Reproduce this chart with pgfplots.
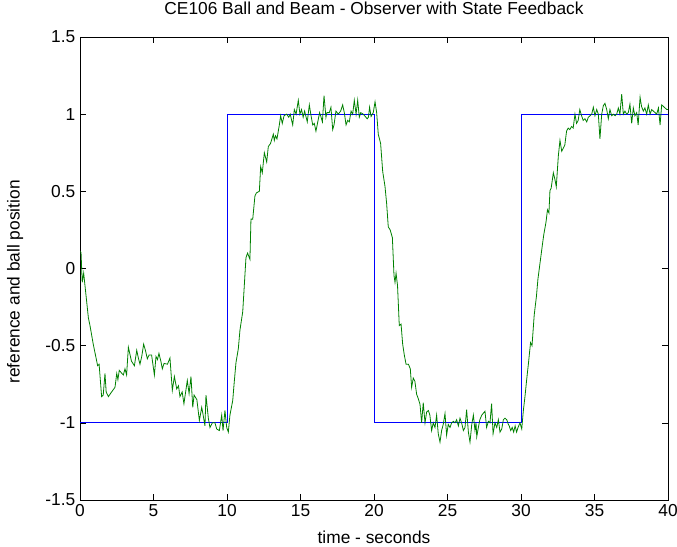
\documentclass[border=0pt]{standalone}
\usepackage{pgfplots}
\pgfplotsset{compat=1.18}
\usepackage{fontspec}
\setmainfont{Liberation Sans}
\definecolor{mlgreen}{RGB}{0,128,0}
\definecolor{mlblue}{RGB}{0,0,255}
\begin{document}
\begin{tikzpicture}
\useasboundingbox (-60pt,-34.5pt) rectangle (447.75pt,375pt);
\begin{axis}[
  at={(0,0)}, anchor=south west,
  scale only axis, width=441pt, height=347.25pt,
  xmin=0, xmax=40, ymin=-1.5, ymax=1.5,
  xtick={0,5,...,40}, ytick={-1.5,-1,...,1.5},
  yticklabels={-1.5,-1,-0.5,0,0.5,1,1.5},
  tick align=inside, tick pos=both, major tick length=4.5pt,
  tick style={black, line width=0.5pt},
  axis line style={line width=0.6pt},
  font=\fontsize{13}{15}\selectfont,
  /pgf/number format/assume math mode=true,
  xticklabel style={yshift=0pt},
  yticklabel style={xshift=0pt},
  title={CE106 Ball and Beam - Observer with State Feedback},
  title style={at={(rel axis cs:0.5,1)}, anchor=base, yshift=10.5pt},
  xlabel={time - seconds},
  xlabel style={at={(rel axis cs:0.5,0)}, anchor=base, yshift=-32.5pt},
  ylabel={reference and ball position},
  ylabel style={at={(axis description cs:-0.1105,0.471)}, anchor=center},
  clip=true,
]
\addplot[mlblue, line width=0.6pt] coordinates {
(0,-1)(10,-1)(10,1)(20,1)(20,-1)(30,-1)(30,1)(40,1)(40,0)
};
\addplot[mlgreen, line width=0.6pt] coordinates {
(0.0,0.11)(0.07,0.105)(0.15,-0.09)(0.25,-0.03)(0.57,-0.32)(0.68,-0.37)(0.9,-0.49)
(1.2,-0.63)(1.3,-0.62)(1.47,-0.83)(1.58,-0.82)(1.7,-0.68)(1.78,-0.80)(1.93,-0.83)
(2.15,-0.80)(2.38,-0.77)(2.5,-0.68)(2.58,-0.72)(2.67,-0.66)(2.85,-0.68)(2.95,-0.69)
(3.06,-0.65)(3.17,-0.69)(3.29,-0.51)(3.5,-0.60)(3.7,-0.63)(3.86,-0.53)(3.97,-0.58)
(4.08,-0.62)(4.2,-0.57)(4.33,-0.49)(4.45,-0.53)(4.58,-0.585)(4.7,-0.56)(4.87,-0.56)
(5.06,-0.69)(5.17,-0.57)(5.27,-0.59)(5.37,-0.55)(5.5,-0.60)(5.6,-0.65)(5.72,-0.615)
(5.95,-0.62)(6.12,-0.58)(6.28,-0.79)(6.42,-0.70)(6.58,-0.78)(6.7,-0.76)(6.8,-0.83)
(6.95,-0.80)(7.07,-0.876)(7.3,-0.725)(7.42,-0.81)(7.55,-0.70)(7.67,-0.90)(7.76,-0.82)
(7.95,-0.85)(8.12,-0.985)(8.28,-0.90)(8.36,-0.94)(8.5,-1.02)(8.57,-0.82)(8.73,-0.97)
(8.84,-1.03)(9.0,-1.0)(9.18,-1.0)(9.3,-1.04)(9.48,-1.05)(9.64,-0.95)(9.73,-1.05)
(9.86,-0.92)(9.98,-1.03)(10.09,-1.06)(10.2,-0.95)(10.39,-0.855)(10.48,-0.75)(10.61,-0.61)
(10.77,-0.52)(10.88,-0.40)(11.07,-0.28)(11.29,0.07)(11.4,0.10)(11.56,0.06)(11.63,0.32)
(11.75,0.32)(11.9,0.47)(12.0,0.49)(12.2,0.50)(12.29,0.66)(12.4,0.62)(12.54,0.75)
(12.7,0.69)(12.81,0.79)(12.96,0.81)(13.15,0.87)(13.22,0.83)(13.3,0.86)(13.4,0.84)
(13.56,0.93)(13.65,0.99)(13.76,0.94)(13.88,0.99)(14.06,1.0)(14.2,0.98)(14.3,1.0)
(14.47,0.93)(14.58,1.03)(14.7,1.0)(14.85,1.09)(14.96,1.0)(15.07,1.03)(15.18,0.98)
(15.28,1.02)(15.46,0.95)(15.6,1.06)(15.7,1.0)(15.83,0.93)(15.94,0.94)(16.05,0.89)
(16.3,1.01)(16.4,0.98)(16.49,0.95)(16.6,1.12)(16.73,0.98)(16.8,1.01)(16.96,1.01)
(17.07,1.045)(17.19,0.90)(17.28,0.93)(17.41,1.02)(17.57,1.0)(17.73,1.02)(17.87,1.06)
(17.98,1.01)(18.1,0.93)(18.21,0.96)(18.32,0.95)(18.44,1.02)(18.55,1.0)(18.66,1.09)
(18.78,1.0)(18.89,1.09)(19.0,0.98)(19.1,1.01)(19.27,1.0)(19.54,0.97)(19.62,0.98)
(19.7,1.045)(19.8,0.985)(19.95,1.01)(20.07,1.08)(20.18,1.01)(20.29,0.87)(20.45,0.81)
(20.59,0.63)(20.75,0.53)(20.86,0.42)(20.97,0.27)(21.1,0.25)(21.25,0.20)(21.36,-0.045)
(21.43,-0.09)(21.5,-0.03)(21.6,-0.11)(21.72,-0.37)(21.84,-0.36)(21.95,-0.49)(22.06,-0.56)
(22.18,-0.62)(22.34,-0.62)(22.47,-0.65)(22.56,-0.77)(22.67,-0.71)(22.78,-0.73)(22.9,-0.815)
(23.0,-0.84)(23.13,-0.88)(23.24,-1.0)(23.35,-0.87)(23.47,-1.0)(23.58,-0.93)(23.7,-0.92)
(23.8,-0.95)(23.92,-1.05)(24.03,-1.0)(24.15,-1.03)(24.26,-0.95)(24.37,-1.07)(24.49,-1.125)
(24.6,-1.05)(24.71,-1.01)(24.83,-0.94)(24.94,-1.08)(25.05,-1.01)(25.17,-1.03)(25.28,-1.0)
(25.4,-0.99)(25.51,-1.0)(25.62,-0.98)(25.74,-1.02)(25.85,-0.97)(25.96,-1.0)(26.08,-1.05)
(26.19,-1.03)(26.3,-0.915)(26.42,-1.06)(26.53,-1.125)(26.65,-1.01)(26.76,-0.95)(26.87,-1.05)
(26.94,-1.0)(26.99,-1.09)(27.1,-1.03)(27.2,-0.98)(27.33,-0.95)(27.55,-0.925)(27.66,-1.03)
(27.78,-0.99)(27.89,-1.0)(28.0,-0.875)(28.1,-1.07)(28.23,-1.0)(28.35,-1.03)(28.46,-0.98)
(28.57,-1.06)(28.69,-1.04)(28.8,-0.98)(28.91,-0.97)(29.03,-0.98)(29.14,-1.01)(29.2,-1.02)
(29.3,-1.05)(29.4,-1.03)(29.5,-1.06)(29.6,-1.02)(29.7,-1.06)(29.8,-1.03)(29.93,-1.0)
(30.05,-1.04)(30.16,-0.92)(30.27,-0.83)(30.38,-0.725)(30.5,-0.62)(30.65,-0.48)(30.75,-0.50)
(30.9,-0.30)(31.05,-0.18)(31.15,-0.07)(31.3,0.04)(31.45,0.15)(31.55,0.22)(31.7,0.30)
(31.8,0.38)(31.9,0.36)(31.97,0.505)(32.05,0.52)(32.2,0.62)(32.3,0.58)(32.4,0.53)
(32.54,0.73)(32.65,0.83)(32.77,0.76)(32.88,0.78)(32.98,0.80)(33.1,0.89)(33.21,0.91)
(33.32,0.90)(33.44,0.92)(33.55,0.91)(33.67,1.0)(33.78,0.94)(33.89,0.96)(34.0,1.03)
(34.12,0.99)(34.23,0.96)(34.35,0.97)(34.47,0.95)(34.58,0.98)(34.7,0.99)(34.81,1.0)
(34.92,1.045)(35.03,0.99)(35.15,1.03)(35.26,1.0)(35.37,0.84)(35.49,1.0)(35.6,1.055)
(35.71,1.07)(35.83,1.03)(35.94,0.97)(36.05,1.03)(36.17,0.99)(36.28,1.0)(36.4,0.99)
(36.51,1.0)(36.62,1.04)(36.73,1.0)(36.85,1.13)(36.96,1.0)(37.07,1.02)(37.19,1.0)
(37.3,1.01)(37.41,1.065)(37.53,0.94)(37.64,1.04)(37.75,0.99)(37.87,1.01)(37.97,0.93)
(38.1,1.11)(38.2,1.05)(38.32,1.02)(38.43,1.04)(38.55,1.0)(38.66,1.06)(38.78,1.0)
(38.89,1.03)(39.0,1.02)(39.12,1.01)(39.23,1.0)(39.35,1.04)(39.46,0.93)(39.57,1.06)
(39.69,1.05)(39.8,1.04)(39.92,1.03)(40.0,1.03)
};
\end{axis}
\end{tikzpicture}
\end{document}
